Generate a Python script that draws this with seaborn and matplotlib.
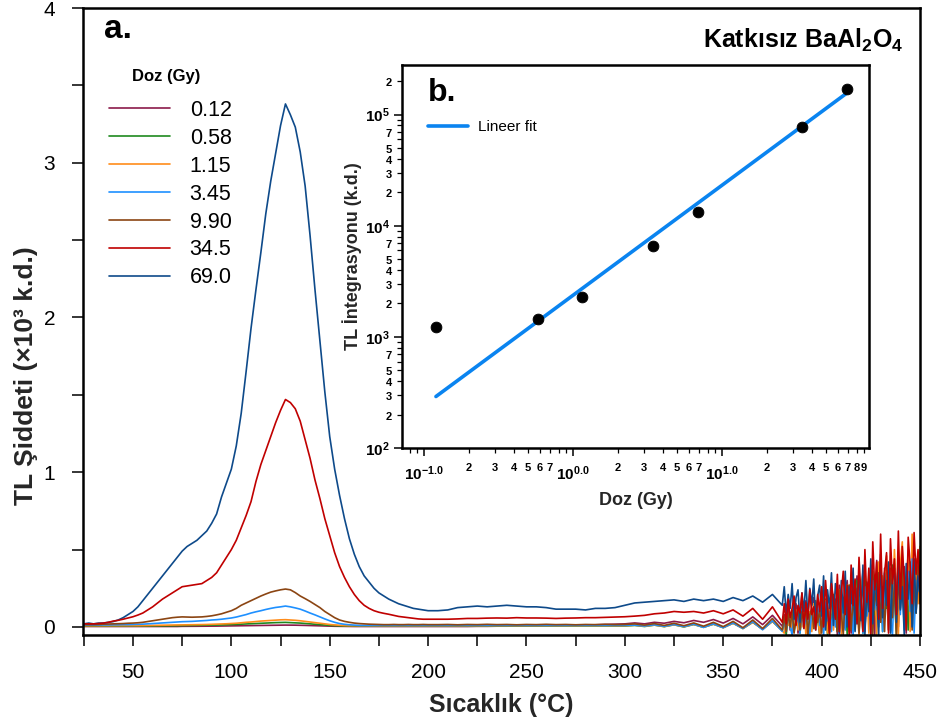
import numpy as np
import pandas as pd
import matplotlib
matplotlib.use("Agg")
import matplotlib.pyplot as plt
import seaborn as sns
from matplotlib.lines import Line2D
from matplotlib.ticker import MultipleLocator, FuncFormatter, LogLocator

# ---------------------------------------------------------------------------
# Glow curves: TL intensity (x10^3 a.u.) vs temperature (deg C)
# 25..200 C every 2.5 C, 205..380 C every 5 C, 381..450 C every 1 C
# ---------------------------------------------------------------------------
temperature_c = np.concatenate([np.arange(25, 200.1, 2.5),
                                np.arange(205, 381, 5),
                                np.arange(381, 451, 1)])

doses = ["0.12", "0.58", "1.15", "3.45", "9.90", "34.5", "69.0"]
dose_colors = ["#8B1A4A", "#1F8A1F", "#FF8C1A", "#1E90FF", "#8B4513", "#C00000", "#0E4A8A"]

tl_0_12 = [
    0.003, 0.003, 0.003, 0.003, 0.003, 0.003, 0.003, 0.003, 0.003, 0.003,
    0.003, 0.003, 0.003, 0.003, 0.003, 0.003, 0.003, 0.003, 0.003, 0.003,
    0.004, 0.004, 0.004, 0.0045, 0.005, 0.005, 0.005, 0.0055, 0.006, 0.0065,
    0.007, 0.0075, 0.008, 0.0085, 0.009, 0.0095, 0.010, 0.0105, 0.011, 0.0115,
    0.012, 0.012, 0.012, 0.0115, 0.011, 0.010, 0.009, 0.008, 0.007, 0.006,
    0.005, 0.0045, 0.004, 0.0035, 0.003, 0.003, 0.003, 0.003, 0.003, 0.003,
    0.003, 0.003, 0.003, 0.003, 0.003, 0.003, 0.003, 0.003, 0.003, 0.003,
    0.003,
] + [
    0.003, 0.003, 0.003, 0.003, 0.004, 0.004, 0.005, 0.005, 0.006, 0.006,
    0.007, 0.008, 0.009, 0.010, 0.011, 0.012, 0.014, 0.016, 0.018, 0.020,
    0.026, 0.020, 0.030, 0.024, 0.036, 0.027, 0.042, 0.030, 0.048, 0.025,
    0.055, 0.020, 0.065, 0.015, 0.075, 0.005,
] + [
    0.08, 0.02, 0.12, -0.02, 0.10, 0.05, 0.15, -0.04, 0.09, 0.13,
    0.00, 0.17, 0.06, -0.03, 0.14, 0.19, 0.03, 0.11, -0.05, 0.16,
    0.21, 0.04, 0.13, -0.02, 0.24, 0.09, 0.18, -0.05, 0.27, 0.12,
    0.01, 0.22, 0.30, 0.07, -0.04, 0.25, 0.16, 0.33, 0.03, 0.20,
    0.36, -0.03, 0.28, 0.11, 0.40, 0.19, -0.05, 0.43, 0.14, 0.31,
    0.02, 0.38, 0.23, -0.02, 0.35, 0.08, 0.41, 0.26, 0.00, 0.33,
    0.17, 0.39, -0.04, 0.29, 0.12, 0.37, 0.05, 0.42, 0.21, 0.30,
]

tl_0_58 = [
    0.006, 0.006, 0.006, 0.006, 0.006, 0.006, 0.006, 0.006, 0.006, 0.006,
    0.006, 0.006, 0.0065, 0.0065, 0.007, 0.007, 0.007, 0.0075, 0.0075, 0.008,
    0.008, 0.0085, 0.009, 0.0095, 0.010, 0.0105, 0.011, 0.012, 0.013, 0.014,
    0.015, 0.0165, 0.018, 0.0195, 0.021, 0.0225, 0.024, 0.0255, 0.027, 0.028,
    0.029, 0.0295, 0.028, 0.0265, 0.025, 0.0225, 0.020, 0.0175, 0.015, 0.0125,
    0.010, 0.0085, 0.007, 0.0065, 0.006, 0.006, 0.006, 0.006, 0.006, 0.006,
    0.006, 0.006, 0.006, 0.006, 0.006, 0.006, 0.006, 0.006, 0.006, 0.006,
    0.006,
] + [
    0.006, 0.006, 0.006, 0.006, 0.006, 0.006, 0.006, 0.006, 0.006, 0.006,
    0.006, 0.006, 0.006, 0.006, 0.006, 0.006, 0.006, 0.006, 0.006, 0.006,
    0.010, 0.003, 0.012, 0.002, 0.014, 0.000, 0.016, -0.002, 0.018, -0.004,
    0.024, -0.010, 0.030, -0.015, 0.036, -0.025,
] + [
    0.03, -0.05, 0.07, 0.00, 0.10, -0.03, 0.05, 0.12, -0.04, 0.08,
    0.02, 0.14, -0.05, 0.06, 0.11, -0.01, 0.16, 0.04, -0.04, 0.13,
    0.07, 0.18, -0.05, 0.12, 0.03, 0.21, 0.09, -0.03, 0.24, 0.14,
    0.00, 0.20, -0.05, 0.27, 0.10, 0.17, -0.02, 0.30, 0.06, 0.22,
    -0.04, 0.32, 0.15, 0.25, -0.05, 0.36, 0.08, 0.28, 0.19, 0.38,
    -0.03, 0.26, 0.12, 0.34, 0.02, 0.40, 0.21, -0.05, 0.31, 0.16,
    0.37, 0.05, 0.29, -0.02, 0.42, 0.18, 0.33, 0.09, 0.39, 0.24,
]

tl_1_15 = [
    0.008, 0.008, 0.008, 0.008, 0.008, 0.008, 0.008, 0.008, 0.008, 0.008,
    0.008, 0.0085, 0.009, 0.0095, 0.010, 0.0105, 0.011, 0.0115, 0.012, 0.0125,
    0.013, 0.0135, 0.014, 0.0145, 0.015, 0.016, 0.017, 0.018, 0.019, 0.0205,
    0.022, 0.024, 0.027, 0.030, 0.032, 0.035, 0.038, 0.040, 0.042, 0.044,
    0.046, 0.047, 0.045, 0.043, 0.040, 0.036, 0.032, 0.028, 0.024, 0.020,
    0.016, 0.013, 0.011, 0.009, 0.008, 0.008, 0.008, 0.008, 0.008, 0.008,
    0.008, 0.008, 0.008, 0.008, 0.008, 0.008, 0.008, 0.008, 0.008, 0.008,
    0.008,
] + [
    0.008, 0.008, 0.008, 0.008, 0.008, 0.008, 0.008, 0.008, 0.008, 0.008,
    0.008, 0.008, 0.008, 0.008, 0.008, 0.008, 0.008, 0.008, 0.008, 0.008,
    0.011, 0.005, 0.012, 0.003, 0.014, 0.002, 0.016, -0.002, 0.018, -0.005,
    0.024, -0.010, 0.030, -0.016, 0.036, -0.025,
] + [
    -0.04, 0.06, 0.01, 0.09, -0.05, 0.04, 0.11, -0.02, 0.07, 0.00,
    0.13, -0.05, 0.05, 0.10, -0.03, 0.15, 0.02, 0.08, -0.05, 0.12,
    0.04, 0.17, -0.04, 0.10, 0.21, -0.02, 0.14, 0.06, 0.24, -0.05,
    0.16, 0.09, 0.27, -0.03, 0.19, 0.03, 0.30, 0.11, -0.05, 0.22,
    0.34, 0.05, 0.25, -0.04, 0.38, 0.13, 0.29, -0.05, 0.42, 0.08,
    0.33, 0.18, 0.46, -0.02, 0.36, 0.10, 0.50, 0.21, -0.05, 0.40,
    0.55, 0.07, 0.31, 0.47, -0.03, 0.60, 0.24, 0.44, 0.15, 0.52,
]

tl_3_45 = [
    0.012, 0.012, 0.012, 0.012, 0.013, 0.013, 0.014, 0.014, 0.015, 0.015,
    0.016, 0.017, 0.018, 0.020, 0.022, 0.024, 0.026, 0.028, 0.030, 0.032,
    0.034, 0.035, 0.036, 0.038, 0.040, 0.042, 0.045, 0.047, 0.050, 0.054,
    0.058, 0.064, 0.072, 0.080, 0.090, 0.098, 0.105, 0.113, 0.120, 0.126,
    0.130, 0.135, 0.130, 0.123, 0.115, 0.103, 0.090, 0.078, 0.065, 0.052,
    0.040, 0.030, 0.022, 0.017, 0.014, 0.012, 0.010, 0.010, 0.010, 0.010,
    0.010, 0.010, 0.010, 0.010, 0.010, 0.010, 0.010, 0.010, 0.010, 0.010,
    0.010,
] + [
    0.010, 0.010, 0.010, 0.010, 0.010, 0.010, 0.010, 0.010, 0.010, 0.010,
    0.010, 0.010, 0.010, 0.010, 0.010, 0.010, 0.010, 0.010, 0.010, 0.010,
    0.012, 0.006, 0.014, 0.004, 0.016, 0.002, 0.018, -0.003, 0.020, -0.005,
    0.026, -0.010, 0.034, -0.018, 0.040, -0.028,
] + [
    0.05, -0.03, 0.08, 0.00, -0.05, 0.10, 0.02, 0.07, -0.04, 0.12,
    -0.01, 0.06, 0.09, -0.05, 0.11, 0.03, -0.02, 0.14, 0.01, 0.08,
    -0.05, 0.16, 0.04, 0.10, -0.03, 0.18, 0.00, 0.13, -0.05, 0.20,
    0.06, -0.02, 0.22, 0.08, 0.15, -0.05, 0.24, 0.02, 0.12, 0.19,
    -0.04, 0.26, 0.07, 0.18, -0.05, 0.30, 0.11, 0.22, 0.00, 0.34,
    -0.03, 0.25, 0.15, 0.38, 0.04, -0.05, 0.29, 0.20, 0.41, 0.08,
    0.33, -0.02, 0.27, 0.36, 0.10, 0.44, -0.04, 0.30, 0.23, 0.39,
]

tl_9_90 = [
    0.015, 0.015, 0.015, 0.016, 0.018, 0.019, 0.020, 0.021, 0.022, 0.024,
    0.025, 0.027, 0.030, 0.035, 0.040, 0.045, 0.050, 0.055, 0.060, 0.063,
    0.065, 0.064, 0.063, 0.064, 0.065, 0.068, 0.072, 0.078, 0.085, 0.095,
    0.105, 0.120, 0.140, 0.155, 0.170, 0.185, 0.200, 0.213, 0.225, 0.233,
    0.240, 0.245, 0.240, 0.222, 0.200, 0.183, 0.165, 0.145, 0.125, 0.100,
    0.080, 0.060, 0.045, 0.036, 0.030, 0.025, 0.022, 0.020, 0.018, 0.017,
    0.016, 0.015, 0.015, 0.016, 0.015, 0.015, 0.016, 0.015, 0.015, 0.016,
    0.015,
] + [
    0.015, 0.016, 0.014, 0.016, 0.015, 0.017, 0.015, 0.016, 0.014, 0.016,
    0.015, 0.017, 0.015, 0.016, 0.014, 0.016, 0.015, 0.017, 0.015, 0.016,
    0.020, 0.012, 0.022, 0.010, 0.024, 0.008, 0.026, 0.005, 0.030, 0.002,
    0.036, -0.005, 0.045, -0.010, 0.055, -0.020,
] + [
    0.07, -0.03, 0.09, 0.00, 0.11, -0.04, 0.06, 0.13, -0.02, 0.10,
    0.02, 0.15, -0.05, 0.08, 0.12, -0.01, 0.17, 0.03, 0.11, -0.04,
    0.19, 0.01, 0.14, -0.05, 0.22, 0.06, 0.16, -0.03, 0.24, 0.09,
    -0.05, 0.20, 0.12, 0.27, -0.02, 0.18, 0.05, 0.25, -0.04, 0.15,
    0.29, 0.00, 0.21, 0.10, 0.32, -0.05, 0.24, 0.14, 0.35, 0.03,
    0.26, -0.03, 0.30, 0.18, 0.38, 0.06, 0.28, -0.05, 0.33, 0.12,
    0.40, 0.02, 0.27, 0.20, 0.36, -0.02, 0.31, 0.09, 0.42, 0.15,
]

tl_34_5 = [
    0.020, 0.020, 0.020, 0.022, 0.025, 0.030, 0.038, 0.043, 0.050, 0.058,
    0.066, 0.077, 0.090, 0.110, 0.130, 0.155, 0.180, 0.200, 0.220, 0.240,
    0.260, 0.265, 0.270, 0.275, 0.280, 0.300, 0.320, 0.350, 0.400, 0.450,
    0.500, 0.560, 0.640, 0.720, 0.810, 0.940, 1.050, 1.140, 1.230, 1.320,
    1.400, 1.470, 1.450, 1.410, 1.330, 1.210, 1.090, 0.950, 0.830, 0.700,
    0.590, 0.480, 0.390, 0.320, 0.260, 0.210, 0.170, 0.140, 0.120, 0.105,
    0.095, 0.088, 0.082, 0.075, 0.068, 0.064, 0.060, 0.056, 0.052, 0.050,
    0.050,
] + [
    0.050, 0.050, 0.052, 0.055, 0.055, 0.057, 0.058, 0.057, 0.060, 0.058,
    0.058, 0.057, 0.055, 0.057, 0.058, 0.060, 0.060, 0.062, 0.064, 0.066,
    0.070, 0.075, 0.085, 0.090, 0.100, 0.095, 0.100, 0.090, 0.105, 0.085,
    0.110, 0.070, 0.120, 0.050, 0.130, 0.030,
] + [
    0.15, 0.02, 0.18, 0.06, 0.12, 0.20, 0.01, 0.14, 0.09, 0.22,
    -0.01, 0.16, 0.05, 0.24, 0.08, 0.13, -0.02, 0.21, 0.10, 0.26,
    0.00, 0.30, 0.12, -0.04, 0.28, 0.18, 0.05, 0.34, -0.03, 0.22,
    0.36, 0.08, 0.27, -0.05, 0.40, 0.14, 0.31, 0.02, 0.45, 0.20,
    -0.03, 0.50, 0.16, 0.38, -0.05, 0.55, 0.24, 0.42, 0.05, 0.60,
    0.12, 0.35, 0.48, -0.04, 0.57, 0.28, 0.44, 0.08, 0.62, 0.18,
    0.52, 0.30, -0.02, 0.58, 0.40, 0.15, 0.61, 0.34, 0.50, 0.25,
]

tl_69_0 = [
    0.020, 0.025, 0.020, 0.025, 0.025, 0.030, 0.035, 0.045, 0.060, 0.080,
    0.100, 0.130, 0.170, 0.210, 0.250, 0.290, 0.330, 0.370, 0.410, 0.450,
    0.490, 0.520, 0.540, 0.560, 0.590, 0.620, 0.670, 0.730, 0.840, 0.930,
    1.020, 1.170, 1.380, 1.650, 1.930, 2.180, 2.420, 2.670, 2.880, 3.060,
    3.240, 3.380, 3.310, 3.230, 3.070, 2.850, 2.530, 2.180, 1.850, 1.520,
    1.230, 1.020, 0.850, 0.700, 0.570, 0.470, 0.390, 0.330, 0.290, 0.250,
    0.220, 0.200, 0.180, 0.165, 0.150, 0.140, 0.130, 0.120, 0.115, 0.110,
    0.105,
] + [
    0.105, 0.110, 0.125, 0.130, 0.135, 0.130, 0.135, 0.140, 0.135, 0.130,
    0.130, 0.125, 0.115, 0.115, 0.115, 0.110, 0.120, 0.120, 0.125, 0.140,
    0.155, 0.160, 0.165, 0.170, 0.175, 0.165, 0.180, 0.170, 0.180, 0.165,
    0.190, 0.170, 0.200, 0.160, 0.210, 0.140,
] + [
    0.26, 0.08, 0.21, 0.12, 0.28, 0.05, 0.19, 0.24, 0.03, 0.22,
    0.10, 0.30, 0.06, 0.25, 0.14, 0.31, 0.02, 0.20, 0.27, 0.07,
    0.33, -0.02, 0.24, 0.12, 0.35, 0.01, 0.28, 0.18, -0.04, 0.30,
    0.09, 0.36, 0.00, 0.26, 0.15, 0.38, -0.03, 0.22, 0.32, 0.04,
    0.40, -0.05, 0.29, 0.10, 0.44, 0.02, 0.33, 0.20, -0.05, 0.47,
    0.06, 0.35, 0.14, 0.42, -0.04, 0.30, 0.38, 0.03, 0.45, 0.11,
    0.26, -0.05, 0.41, 0.18, 0.36, 0.00, 0.44, 0.09, 0.33, 0.22,
]

glow_curves = [tl_0_12, tl_0_58, tl_1_15, tl_3_45, tl_9_90, tl_34_5, tl_69_0]

# ---------------------------------------------------------------------------
# Dose response: integrated TL (a.u.) vs dose (Gy), log-log
# ---------------------------------------------------------------------------
dose_gy = [0.12, 0.58, 1.15, 3.45, 6.9, 34.5, 69.0]
tl_integral = [1240, 1450, 2280, 6560, 13400, 78000, 172000]
fit_slope = 0.99            # log10(TL) = slope * log10(D) + intercept
fit_log_intercept = 3.375
fit_dose_range = [0.12, 69.0]

# ---------------------------------------------------------------------------
sns.set_theme(style="ticks")
plt.rcParams["font.family"] = ["Liberation Sans", "DejaVu Sans"]
plt.rcParams["mathtext.fontset"] = "custom"
plt.rcParams["mathtext.rm"] = "Liberation Sans"
plt.rcParams["mathtext.bf"] = "Liberation Sans:bold"
plt.rcParams["mathtext.it"] = "Liberation Sans:italic"
plt.rcParams["axes.edgecolor"] = "black"
plt.rcParams["xtick.color"] = "black"
plt.rcParams["ytick.color"] = "black"
plt.rcParams["text.color"] = "black"

W, H = 948, 726
fig = plt.figure(figsize=(W / 100, H / 100), dpi=100)


def px_box(left, top, right, bottom):
    return [left / W, 1 - bottom / H, (right - left) / W, (bottom - top) / H]


ax = fig.add_axes(px_box(83, 8, 920, 635))

frames = []
for dose, values in zip(doses, glow_curves):
    frames.append(pd.DataFrame({"T": temperature_c, "TL": values, "Doz": dose}))
glow_df = pd.concat(frames, ignore_index=True)

palette = dict(zip(doses, dose_colors))
draw_order = ["0.12", "0.58", "1.15", "3.45", "9.90", "69.0", "34.5"]
sns.lineplot(data=glow_df, x="T", y="TL", hue="Doz", hue_order=draw_order,
             palette=palette, estimator=None, sort=False, linewidth=1.2,
             legend=False, ax=ax)

ax.set_xlim(24.6, 450)
ax.set_ylim(-0.052, 4.0)
ax.xaxis.set_major_locator(MultipleLocator(50))
ax.xaxis.set_minor_locator(MultipleLocator(25))
ax.yaxis.set_major_locator(MultipleLocator(1))
ax.yaxis.set_minor_locator(MultipleLocator(0.5))
ax.xaxis.set_major_formatter(FuncFormatter(lambda v, p: "" if v < 50 else f"{v:.0f}"))
ax.tick_params(which="both", direction="out", length=8, width=1.1)
ax.tick_params(axis="x", which="major", labelsize=15, pad=12)
ax.tick_params(axis="y", which="major", labelsize=15, pad=12)
for s in ax.spines.values():
    s.set_linewidth(1.8)
ax.set_xlabel("Sıcaklık (°C)", fontsize=18, fontweight="bold", labelpad=8)
ax.set_ylabel("TL Şiddeti (×10³ k.d.)", fontsize=19, fontweight="bold")
ax.yaxis.set_label_coords(-0.054, 0.413)

handles = [Line2D([0], [0], color=c, lw=1.2) for c in dose_colors]
ax.legend(handles, doses, loc="upper left",
          bbox_to_anchor=(109 / W, 1 - 100 / H), bbox_transform=fig.transFigure,
          frameon=False, fontsize=15.5, handlelength=2.85, handletextpad=0.9,
          labelspacing=0.32, borderpad=0, borderaxespad=0)
fig.text(166 / W, 1 - 77 / H, "Doz (Gy)", fontsize=12, fontweight="bold",
         va="center", ha="center")

fig.text(104 / W, 1 - 30 / H, "a.", fontsize=24, fontweight="bold", va="center", ha="left")
fig.text(903 / W, 1 - 40 / H, r"Katkısız BaAl$_\mathbf{2}$O$_\mathbf{4}$",
         fontsize=18, fontweight="bold", va="center", ha="right")

# ---- inset: dose response ----
axi = fig.add_axes(px_box(402, 65, 869, 448))
axi.set_xscale("log")
axi.set_yscale("log")
sns.lineplot(x=fit_dose_range,
             y=[10 ** (fit_slope * np.log10(d) + fit_log_intercept) for d in fit_dose_range],
             color="#0A84F0", linewidth=2.6, ax=axi, label="Lineer fit")
sns.scatterplot(x=dose_gy, y=tl_integral, color="black", s=60, edgecolor="black",
                zorder=5, ax=axi)
axi.set_xlim(0.071, 97)
axi.set_ylim(100, 2.8e5)

x_minor_shown = {(-1, 2), (-1, 3), (-1, 4), (-1, 5), (-1, 6), (-1, 7),
                 (0, 2), (0, 3), (0, 4), (0, 5), (0, 6), (0, 7),
                 (1, 2), (1, 3), (1, 4), (1, 5), (1, 6), (1, 7), (1, 8), (1, 9)}


def x_major(v, p):
    return r"$\mathbf{10^{%d.0}}$" % int(round(np.log10(v)))


def x_minor(v, p):
    e = int(np.floor(np.log10(v) + 1e-9))
    m = int(round(v / 10.0 ** e))
    return r"$\mathbf{%d}$" % m if (e, m) in x_minor_shown else ""


def y_major(v, p):
    return r"$\mathbf{10^{%d}}$" % int(round(np.log10(v)))


def y_minor(v, p):
    e = int(np.floor(np.log10(v) + 1e-9))
    m = int(round(v / 10.0 ** e))
    return r"$\mathbf{%d}$" % m if m in (2, 3, 4, 5, 7) else ""


axi.xaxis.set_major_locator(LogLocator(base=10, numticks=10))
axi.xaxis.set_minor_locator(LogLocator(base=10, subs=np.arange(2, 10), numticks=20))
axi.yaxis.set_major_locator(LogLocator(base=10, numticks=10))
axi.yaxis.set_minor_locator(LogLocator(base=10, subs=np.arange(2, 10), numticks=20))
axi.xaxis.set_major_formatter(FuncFormatter(x_major))
axi.xaxis.set_minor_formatter(FuncFormatter(x_minor))
axi.yaxis.set_major_formatter(FuncFormatter(y_major))
axi.yaxis.set_minor_formatter(FuncFormatter(y_minor))
axi.tick_params(which="major", direction="out", length=6, width=1.1, labelsize=11, pad=3)
axi.tick_params(which="minor", direction="out", length=3.5, width=0.9, labelsize=8, pad=3)
axi.tick_params(axis="x", which="both", pad=6)
for s in axi.spines.values():
    s.set_linewidth(1.8)
axi.set_xlabel("Doz (Gy)", fontsize=13, fontweight="bold", labelpad=6)
axi.set_ylabel("TL İntegrasyonu (k.d.)", fontsize=13, fontweight="bold", labelpad=2)
axi.legend(loc="upper left", bbox_to_anchor=(428 / W, 1 - 120 / H),
           bbox_transform=fig.transFigure, frameon=False, fontsize=11,
           handlelength=2.6, handletextpad=0.65, borderpad=0, borderaxespad=0)
fig.text(428 / W, 1 - 93 / H, "b.", fontsize=23, fontweight="bold", va="center", ha="left")

fig.savefig("out.png", dpi=100)
